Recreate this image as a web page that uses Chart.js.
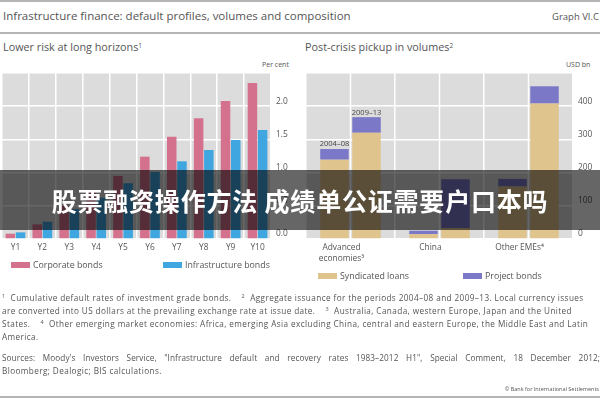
<!DOCTYPE html>
<html>
<head>
<meta charset="utf-8">
<script src="https://cdn.jsdelivr.net/npm/chart.js@4/dist/chart.umd.min.js"></script>
<style>
  body { margin: 0; width: 600px; height: 400px; overflow: hidden; background: #fff; position: relative;
         font-family: "Open Sans", sans-serif; color: #555; }
  .abs { position: absolute; white-space: nowrap; }
  .rule { position: absolute; left: 0; width: 600px; height: 2px; background: #b4b4b4; }
  .sw { position: absolute; width: 19px; height: 6px; }
  .lg { position: absolute; font-size: 8.8px; line-height: 10px; white-space: nowrap; }
  .foot { position: absolute; left: 2px; width: 598px; font-size: 8.2px; letter-spacing: 0.4px; line-height: 13px;
          white-space: nowrap; overflow: hidden; }
  sup { font-size: 5.5px; line-height: 0; vertical-align: 3px; }
  #band { position: absolute; left: 0; top: 170px; width: 600px; height: 60px; background: rgba(0,0,0,0.6);
          color: #fff; font-family: "Noto Sans CJK SC", sans-serif; font-weight: bold; font-size: 25px;
          line-height: 60px; text-align: center; letter-spacing: 0.8px; z-index: 5; }
</style>
</head>
<body>
<div class="rule" style="top:0"></div>
<div class="abs" style="left:3px; top:8px; font-size:11.5px;">Infrastructure finance: default profiles, volumes and composition</div>
<div class="abs" style="right:1px; top:10px; font-size:9.5px;">Graph VI.C</div>
<div class="rule" style="top:32px"></div>
<div class="abs" style="left:3px; top:39px; font-size:10.8px;">Lower risk at long horizons<sup style="font-size:6.5px">1</sup></div>
<div class="abs" style="left:305px; top:39px; font-size:10.8px;">Post-crisis pickup in volumes<sup style="font-size:6.5px">2</sup></div>
<div class="abs" style="left:262px; top:60px; font-size:7px;">Per cent</div>
<div class="abs" style="left:566px; top:60px; font-size:7px;">USD bn</div>

<div style="position:absolute; left:0; top:60px; width:300px; height:200px;"><canvas id="riskChart"></canvas></div>
<div style="position:absolute; left:300px; top:60px; width:300px; height:210px;"><canvas id="volumeChart"></canvas></div>

<div class="sw" style="left:11px; top:262px; background:#d4728d"></div>
<div class="lg" style="left:33px; top:260px;">Corporate bonds</div>
<div class="sw" style="left:163px; top:262px; background:#40a6e0"></div>
<div class="lg" style="left:185px; top:260px;">Infrastructure bonds</div>
<div class="sw" style="left:318px; top:273px; background:#e0c48e"></div>
<div class="lg" style="left:340px; top:271px;">Syndicated loans</div>
<div class="sw" style="left:463px; top:273px; background:#7c78c8"></div>
<div class="lg" style="left:485px; top:271px;">Project bonds</div>

<div class="foot" style="top:291px;"><sup>1</sup>&nbsp; Cumulative default rates of investment grade bonds.&nbsp;&nbsp;&nbsp; <sup>2</sup>&nbsp; Aggregate issuance for the periods 2004–08 and 2009–13. Local currency issues<br>are converted into US dollars at the prevailing exchange rate at issue date.&nbsp;&nbsp;&nbsp; <sup>3</sup>&nbsp; Australia, Canada, western Europe, Japan and the United<br>States.&nbsp;&nbsp;&nbsp; <sup>4</sup>&nbsp; Other emerging market economies: Africa, emerging Asia excluding China, central and eastern Europe, the Middle East and Latin<br>America.</div>
<div class="foot" style="top:351px; text-align:justify; text-align-last:justify; letter-spacing:0.1px;">Sources: Moody's Investors Service, "Infrastructure default and recovery rates 1983–2012 H1", Special Comment, 18 December 2012;</div>
<div class="foot" style="top:364px;">Bloomberg; Dealogic; BIS calculations.</div>
<div class="abs" style="right:1px; top:385px; font-size:5.5px;">© Bank for International Settlements</div>
<div class="rule" style="top:396px"></div>

<div id="band">股票融资操作方法 成绩单公证需要户口本吗</div>

<script>
// left panel: cumulative default rates, per cent
const horizons = ['Y1', 'Y2', 'Y3', 'Y4', 'Y5', 'Y6', 'Y7', 'Y8', 'Y9', 'Y10'];
const corporateBonds = [0.08, 0.22, 0.50, 0.72, 0.95, 1.24, 1.54, 1.82, 2.08, 2.35];
const infrastructureBonds = [0.10, 0.26, 0.45, 0.62, 0.84, 1.01, 1.17, 1.34, 1.49, 1.64];
const riskTicks = [0, 0.5, 1.0, 1.5, 2.0];

// right panel: issuance, USD bn
const regions = [['Advanced', 'economies³'], 'China', 'Other EMEs⁴'];
const periods = ['2004–08', '2009–13'];
const loans0408 = [239, 15, 158];
const bonds0408 = [32, 10, 23];
const loans0913 = [320, 33, 408];
const bonds0913 = [47, 147, 52];
const volumeTicks = [0, 100, 200, 300, 400];

Chart.defaults.font.family = '"Open Sans", sans-serif';
Chart.defaults.font.size = 8.4;
Chart.defaults.color = '#555';

const plotBg = {
    id: 'plotBg',
    beforeDraw(chart) {
        const a = chart.chartArea, ctx = chart.ctx;
        ctx.save();
        ctx.fillStyle = '#dcdcdc';
        ctx.fillRect(a.left, a.top, a.right - a.left, a.bottom - a.top);
        ctx.restore();
    }
};

// extra white lines through the middle of each region
const midLines = {
    id: 'midLines',
    beforeDatasetsDraw(chart) {
        const a = chart.chartArea, ctx = chart.ctx, x = chart.scales.x;
        ctx.save();
        ctx.strokeStyle = '#fff';
        ctx.lineWidth = 1.5;
        regions.forEach((r, i) => {
            const px = x.getPixelForValue(i);
            ctx.beginPath();
            ctx.moveTo(px, a.top);
            ctx.lineTo(px, a.bottom);
            ctx.stroke();
        });
        ctx.restore();
    }
};

// period names above the advanced economies stacks
const periodLabels = {
    id: 'periodLabels',
    afterDatasetsDraw(chart) {
        const ctx = chart.ctx;
        ctx.save();
        ctx.font = '7.5px "Open Sans", sans-serif';
        ctx.fillStyle = '#444';
        ctx.textAlign = 'center';
        ctx.textBaseline = 'bottom';
        [1, 3].forEach((ds, k) => {
            const el = chart.getDatasetMeta(ds).data[0];
            ctx.fillText(periods[k], el.x, el.y - 1);
        });
        ctx.restore();
    }
};

function yAxis(max, step, ticks, width, digits) {
    return {
        position: 'right',
        min: 0, max: max,
        afterFit: s => { s.width = width; },
        grid: { color: '#fff', lineWidth: 1.5, drawTicks: false },
        border: { display: false },
        ticks: {
            stepSize: step, padding: 5, labelOffset: -5,
            callback: v => ticks.includes(v) ? v.toFixed(digits) : ''
        }
    };
}

new Chart(document.getElementById('riskChart'), {
    type: 'bar',
    data: {
        labels: horizons,
        datasets: [
            { label: 'Corporate bonds', data: corporateBonds, backgroundColor: '#d4728d' },
            { label: 'Infrastructure bonds', data: infrastructureBonds, backgroundColor: '#40a6e0' }
        ]
    },
    options: {
        responsive: true,
        maintainAspectRatio: false,
        animation: false,
        categoryPercentage: 0.76,
        barPercentage: 0.93,
        layout: { padding: { left: 2, top: 13, right: 0, bottom: 0 } },
        plugins: { legend: { display: false }, tooltip: { enabled: false } },
        scales: {
            x: {
                afterFit: s => { s.height = 21; },
                grid: { color: '#fff', lineWidth: 1.5, drawTicks: false },
                border: { display: false },
                ticks: { padding: 4, maxRotation: 0 }
            },
            y: yAxis(2.5, 0.5, riskTicks, 29, 1)
        }
    },
    plugins: [plotBg]
});

new Chart(document.getElementById('volumeChart'), {
    type: 'bar',
    data: {
        labels: regions,
        datasets: [
            { label: 'Syndicated loans', data: loans0408, backgroundColor: '#e0c48e', stack: 'p1' },
            { label: 'Project bonds', data: bonds0408, backgroundColor: '#7c78c8', stack: 'p1' },
            { label: 'Syndicated loans', data: loans0913, backgroundColor: '#e0c48e', stack: 'p2' },
            { label: 'Project bonds', data: bonds0913, backgroundColor: '#7c78c8', stack: 'p2' }
        ]
    },
    options: {
        responsive: true,
        maintainAspectRatio: false,
        animation: false,
        categoryPercentage: 0.72,
        barPercentage: 0.89,
        layout: { padding: { left: 6, top: 13, right: 0, bottom: 0 } },
        plugins: { legend: { display: false }, tooltip: { enabled: false } },
        scales: {
            x: {
                stacked: true,
                afterFit: s => { s.height = 31; },
                grid: { color: '#fff', lineWidth: 1.5, drawTicks: false },
                border: { display: false },
                ticks: { padding: 4, maxRotation: 0, labelOffset: -9 }
            },
            y: Object.assign(yAxis(500, 100, volumeTicks, 27, 0), { stacked: true })
        }
    },
    plugins: [plotBg, midLines, periodLabels]
});
</script>
</body>
</html>
